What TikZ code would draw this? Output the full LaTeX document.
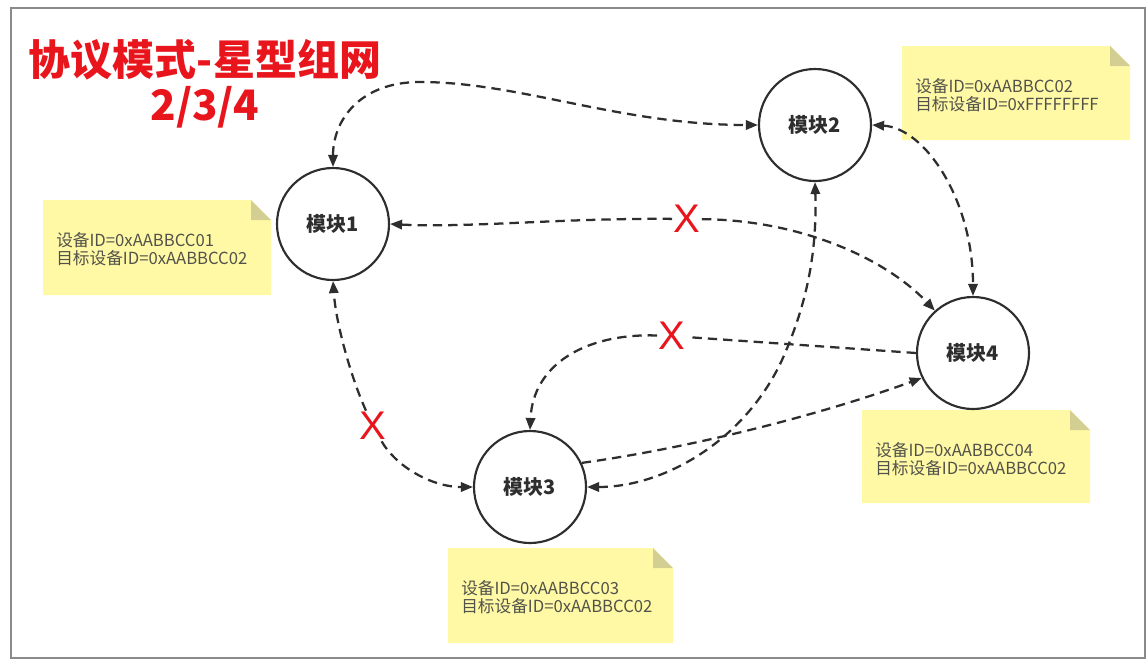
\documentclass[tikz,border=0pt]{standalone}
\usepackage{fontspec}
\setmainfont{Noto Sans CJK SC}
\newfontfamily\xfont{Liberation Sans}
\usetikzlibrary{arrows.meta}
\definecolor{notey}{HTML}{FFF9A6}
\definecolor{foldc}{HTML}{D3CF92}
\definecolor{titler}{HTML}{E8161C}
\definecolor{linec}{HTML}{2E2E2E}
\definecolor{notet}{HTML}{52524A}
\definecolor{framec}{HTML}{8A8A8A}
\newcommand\stickynote[6]{%
  \fill[notey] (#1,#2) -- (#3-20,#2) -- (#3,#2+20) -- (#3,#4) -- (#1,#4) -- cycle;
  \fill[foldc] (#3-20,#2) -- (#3-20,#2+20) -- (#3,#2+20) -- cycle;
  \node[notetext] (#5) at (#1+13,#2+49) {#6};
}
\begin{document}
\begin{tikzpicture}[x=0.75pt,y=-0.75pt,
  module/.style={circle, draw=linec, line width=1.6pt, minimum size=84pt, inner sep=0pt,
    font=\fontsize{15}{18}\selectfont\bfseries, text=linec},
  link/.style={draw=linec, line width=1.7pt, dash pattern=on 7pt off 4.5pt},
  tip/.style={-{Triangle[length=9pt,width=7pt]}},
  both/.style={{Triangle[length=9pt,width=7pt]}-{Triangle[length=9pt,width=7pt]}},
  cross/.style={font=\xfont\fontsize{30}{30}\selectfont, text=titler, inner sep=1pt},
  notetext/.style={anchor=west, align=left, font=\fontsize{12.5}{13.8}\selectfont, text=notet, inner sep=0pt},
  titletext/.style={font=\fontsize{31.5}{31.5}\selectfont\bfseries, text=titler, inner sep=0pt}
]
\useasboundingbox (0,0) rectangle (1147,662);
\fill[white] (0,0) rectangle (1147,662);
\draw[framec, line width=1.5pt] (11,8) rectangle (1145,658);

% title
\node[titletext] (title) at (205,60) {协议模式-星型组网};
\node[titletext] (sub) at (205,107) {2/3/4};

% sticky notes
\stickynote{43}{200}{271}{295}{n1}{设备ID=0xAABBCC01\\目标设备ID=0xAABBCC02}
\stickynote{902}{46}{1130}{140}{n2}{设备ID=0xAABBCC02\\目标设备ID=0xFFFFFFFF}
\stickynote{448}{548}{673}{643}{n3}{设备ID=0xAABBCC03\\目标设备ID=0xAABBCC02}
\stickynote{862}{410}{1090}{503}{n4}{设备ID=0xAABBCC04\\目标设备ID=0xAABBCC02}

% modules
\node[module] (M1) at (333,224) {模块1};
\node[module] (M2) at (815,125) {模块2};
\node[module] (M3) at (530,487) {模块3};
\node[module] (M4) at (973,353) {模块4};

% blocked marks
\node[cross] (X1) at (687,219) {X};
\node[cross] (X2) at (672,336) {X};
\node[cross] (X3) at (373,426) {X};

% connectors
\draw[link,both] (M1.north) .. controls (333,120) and (360,82) .. (420,82)
  .. controls (520,82) and (620,125) .. (M2.west);
\draw[link,tip] (X1) .. controls (560,218) and (470,228) .. (M1.east);
\draw[link,tip] (X1) .. controls (800,220) and (885,258) .. (M4.132);
\draw[link,both] (M2.east) .. controls (925,128) and (973,200) .. (M4.north);
\draw[link] (M4.west) -- (X2);
\draw[link,tip] (X2) .. controls (585,333) and (533,365) .. (M3.north);
\draw[link,tip] (X3) .. controls (352,380) and (336,325) .. (M1.south);
\draw[link,tip] (X3) .. controls (395,465) and (430,487) .. (M3.west);
\draw[link,tip] (M3.25) .. controls (690,448) and (820,415) .. (M4.206);
\draw[link,both] (M3.east) .. controls (665,487) and (745,440) .. (782,360)
  .. controls (808,302) and (817,250) .. (M2.south);
\end{tikzpicture}
\end{document}
